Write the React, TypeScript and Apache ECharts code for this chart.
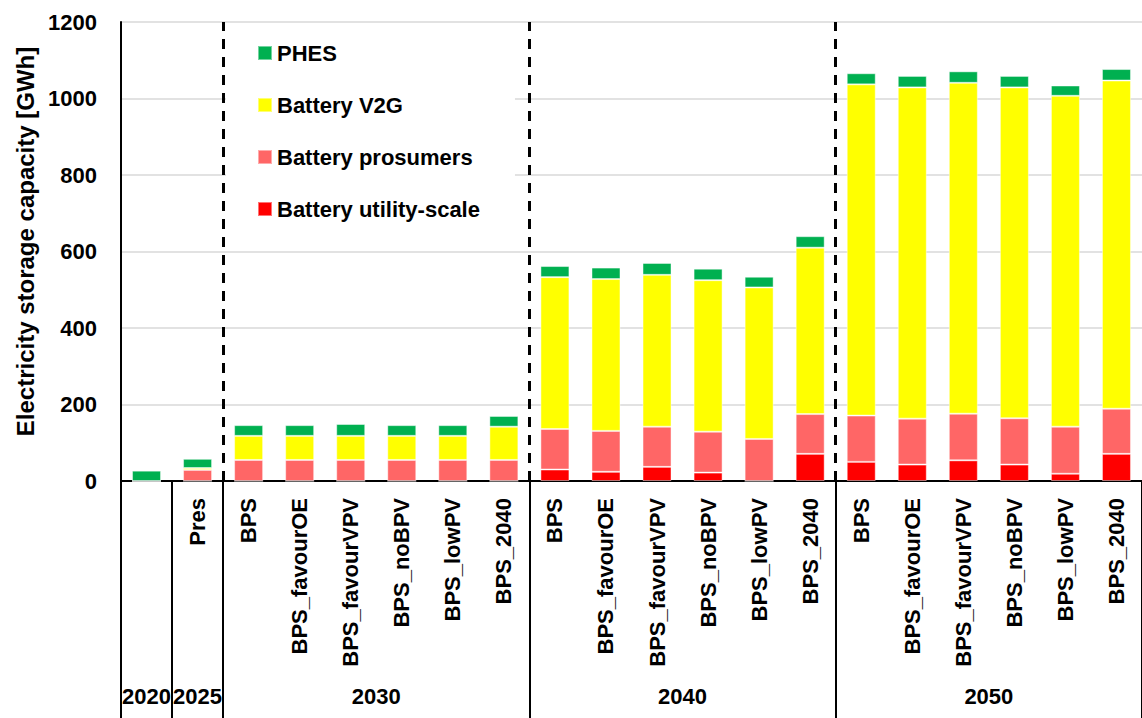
import React, { useEffect, useRef } from 'react';
import * as echarts from 'echarts';

// ---- data ----
const groups = ['2020', '2025', '2030', '2040', '2050'];
const groupSizes = [1, 1, 6, 6, 6];
const scenarios = [
  '', 'Pres',
  'BPS', 'BPS_favourOE', 'BPS_favourVPV', 'BPS_noBPV', 'BPS_lowPV', 'BPS_2040',
  'BPS', 'BPS_favourOE', 'BPS_favourVPV', 'BPS_noBPV', 'BPS_lowPV', 'BPS_2040',
  'BPS', 'BPS_favourOE', 'BPS_favourVPV', 'BPS_noBPV', 'BPS_lowPV', 'BPS_2040',
];
const utilityScale = [0, 0, 0, 0, 0, 0, 0, 0, 30, 24, 37, 22, 0, 71, 50, 43, 54, 43, 19, 71];
const prosumers = [0, 29, 55, 55, 55, 55, 55, 55, 106, 107, 105, 107, 110, 104, 121, 120, 122, 121, 123, 118];
const v2g = [0, 5, 63, 63, 63, 63, 63, 87, 397, 397, 397, 396, 396, 435, 866, 866, 865, 865, 865, 858];
const phes = [27, 24, 28, 28, 31, 28, 28, 28, 29, 30, 31, 30, 28, 30, 29, 30, 30, 30, 27, 30];
const seriesNames = ['Battery utility-scale', 'Battery prosumers', 'Battery V2G', 'PHES'];
const seriesColors = ['#FF0000', '#FF6666', '#FFFF00', '#00B050'];
const legendOrder = ['PHES', 'Battery V2G', 'Battery prosumers', 'Battery utility-scale'];
const yMin = 0;
const yMax = 1200;
const yInterval = 200;

const FONT = "'Liberation Sans', Arial, sans-serif";
const FS = 22;

export default function App() {
  const ref = useRef<HTMLDivElement>(null);
  useEffect(() => {
    if (!ref.current) return;
    const chart = echarts.init(ref.current, undefined, { renderer: 'svg' });

    // half-step point axis for group labels and separators
    const nCat = scenarios.length;
    const nPts = nCat * 2 + 1;
    const labelAt: string[] = new Array(nPts).fill('');
    const boundaries: number[] = [];
    const dashed: number[] = [];
    let start = 0;
    groups.forEach((g, gi) => {
      labelAt[2 * start + groupSizes[gi]] = g;
      boundaries.push(2 * start);
      if (gi >= 2) dashed.push(2 * start);
      start += groupSizes[gi];
    });
    boundaries.push(2 * start);
    const ptKeys = labelAt.map((_, i) => 'p' + i);

    const seriesData = [utilityScale, prosumers, v2g, phes];

    chart.setOption({
      animation: false,
      backgroundColor: '#ffffff',
      grid: { left: 121, right: 0, top: 22, bottom: 237, containLabel: false, outerBoundsMode: 'none' },
      legend: {
        data: legendOrder,
        orient: 'vertical',
        left: 226,
        top: 25,
        padding: [15, 35, 14, 31],
        backgroundColor: '#ffffff',
        itemWidth: 14,
        itemHeight: 14,
        itemGap: 26,
        icon: 'rect',
        textStyle: { fontFamily: FONT, fontWeight: 'bold', fontSize: FS, color: '#000', lineHeight: 26 },
      },
      xAxis: [
        {
          type: 'category',
          data: scenarios,
          position: 'bottom',
          axisLine: { show: true, lineStyle: { color: '#000', width: 2 } },
          axisTick: { show: false },
          axisLabel: {
            interval: 0,
            rotate: 90,
            margin: 17,
            fontFamily: FONT,
            fontWeight: 'bold',
            fontSize: FS,
            color: '#000',
          },
          splitLine: { show: false },
        },
        {
          type: 'category',
          data: ptKeys,
          boundaryGap: false,
          position: 'bottom',
          axisLine: { show: false },
          axisTick: {
            show: true,
            interval: (i: number) => boundaries.includes(i),
            length: 240,
            lineStyle: { color: '#000', width: 2 },
          },
          axisLabel: {
            interval: (i: number) => labelAt[i] !== '',
            formatter: (_v: string, i: number) => labelAt[i],
            margin: 204,
            hideOverlap: false,
            fontFamily: FONT,
            fontWeight: 'bold',
            fontSize: FS,
            color: '#000',
          },
          splitLine: { show: false },
        },
      ],
      yAxis: {
        type: 'value',
        min: yMin,
        max: yMax,
        interval: yInterval,
        name: 'Electricity storage capacity [GWh]',
        nameLocation: 'middle',
        nameGap: 84,
        nameTextStyle: { fontFamily: FONT, fontWeight: 'bold', fontSize: 24, color: '#000', padding: [0, 0, 0, 20] },
        axisLine: { show: true, lineStyle: { color: '#000', width: 2 } },
        axisTick: { show: false },
        axisLabel: {
          margin: 24,
          fontFamily: FONT,
          fontWeight: 'bold',
          fontSize: FS,
          color: '#000',
          formatter: (v: number) => String(v),
        },
        splitLine: { show: true, lineStyle: { color: '#d9d9d9', width: 1.5 } },
      },
      series: [
        ...seriesNames.map((name, si) => ({
          name,
          type: 'bar',
          stack: 'total',
          barWidth: 29,
          xAxisIndex: 0,
          yAxisIndex: 0,
          itemStyle: { color: seriesColors[si], borderColor: 'rgba(255,255,255,0.45)', borderWidth: 1 },
          data: seriesData[si],
        })),
        {
          type: 'line',
          xAxisIndex: 1,
          yAxisIndex: 0,
          data: [],
          silent: true,
          markLine: {
            silent: true,
            symbol: 'none',
            label: { show: false },
            lineStyle: { color: '#000', width: 3, type: [10, 8] },
            data: dashed.map((d) => ({ xAxis: d })),
          },
        },
      ],
    });
    return () => chart.dispose();
  }, []);
  return <div ref={ref} style={{ position: 'fixed', left: 0, top: 0, width: 1142, height: 718 }} />;
}
